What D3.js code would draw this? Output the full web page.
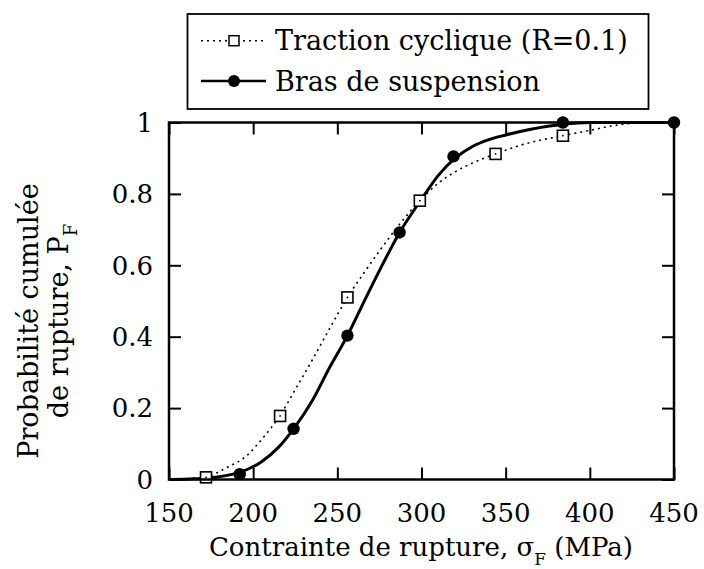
<!DOCTYPE html>
<html>
<head>
<meta charset="utf-8">
<script src="https://cdn.jsdelivr.net/npm/d3@7"></script>
<style>
  body { margin: 0; background: #fff; }
</style>
</head>
<body>
<svg id="chart" width="704" height="569"></svg>
<script>
// ---- data ----
const xTicks = [150, 200, 250, 300, 350, 400, 450];
const yTicks = [0, 0.2, 0.4, 0.6, 0.8, 1];
const yTickLabels = ["0", "0.2", "0.4", "0.6", "0.8", "1"];

// Traction cyclique (R=0.1) - measured points
const tractionX = [172, 216, 256, 299, 344, 384];
const tractionY = [0.006, 0.178, 0.51, 0.781, 0.912, 0.963];
// Traction cyclique - fitted curve
const tractionFitX = [150, 160, 172, 185, 196, 205, 216, 226, 236, 246, 256, 266, 275, 287, 299, 310, 320, 332, 344, 360, 384, 400, 414, 430, 450];
const tractionFitY = [0.0, 0.002, 0.008, 0.035, 0.066, 0.112, 0.18, 0.26, 0.342, 0.428, 0.51, 0.58, 0.64, 0.715, 0.781, 0.83, 0.862, 0.89, 0.912, 0.938, 0.963, 0.978, 0.991, 0.999, 1.0];

// Bras de suspension - measured points
const brasX = [192, 224, 256, 287, 319, 384, 450];
const brasY = [0.015, 0.142, 0.403, 0.692, 0.905, 1.0, 1.0];
// Bras de suspension - fitted curve
const brasFitX = [150, 165, 180, 192, 205, 215, 224, 235, 245, 256, 265, 275, 287, 300, 310, 320, 330, 340, 350, 365, 384, 400, 450];
const brasFitY = [0.0, 0.002, 0.008, 0.02, 0.05, 0.09, 0.142, 0.22, 0.31, 0.403, 0.49, 0.585, 0.692, 0.785, 0.852, 0.9, 0.932, 0.952, 0.965, 0.981, 0.995, 1.0, 1.0];

const legendLabels = ["Traction cyclique (R=0.1)", "Bras de suspension"];

// ---- layout ----
const svg = d3.select("#chart");
const L = 169, R = 674, T = 122.5, B = 479.5;
const x = d3.scaleLinear().domain([150, 450]).range([L, R]);
const y = d3.scaleLinear().domain([0, 1]).range([B, T]);
const tickLen = 12;

const g = svg.append("g");

// curves
const line = d3.line().x(d => x(d[0])).y(d => y(d[1])).curve(d3.curveMonotoneX);
g.append("path")
  .datum(tractionFitX.map((v, i) => [v, tractionFitY[i]]))
  .attr("d", line).attr("fill", "none").attr("stroke", "#000")
  .attr("stroke-width", 1.6).attr("stroke-dasharray", "2,4");
g.append("path")
  .datum(brasFitX.map((v, i) => [v, brasFitY[i]]))
  .attr("d", line).attr("fill", "none").attr("stroke", "#000")
  .attr("stroke-width", 3);

// axes with inward ticks on all sides
const axB = d3.axisBottom(x).tickValues(xTicks).tickSizeInner(-tickLen).tickSizeOuter(0).tickFormat("");
const axT = d3.axisTop(x).tickValues(xTicks).tickSizeInner(-tickLen).tickSizeOuter(0).tickFormat("");
const axL = d3.axisLeft(y).tickValues(yTicks).tickSizeInner(-tickLen).tickSizeOuter(0).tickFormat("");
const axR = d3.axisRight(y).tickValues(yTicks).tickSizeInner(-tickLen).tickSizeOuter(0).tickFormat("");
[[axB, `translate(0,${B})`], [axT, `translate(0,${T})`], [axL, `translate(${L},0)`], [axR, `translate(${R},0)`]]
  .forEach(([ax, tr]) => {
    const a = svg.append("g").attr("transform", tr).call(ax);
    a.select(".domain").remove();
    a.selectAll("line").attr("stroke", "#000").attr("stroke-width", 2);
  });

// frame
svg.append("rect").attr("x", L).attr("y", T).attr("width", R - L).attr("height", B - T)
  .attr("fill", "none").attr("stroke", "#000").attr("stroke-width", 2.5);

// markers
const sq = 11;
g.selectAll(".sq").data(tractionX.map((v, i) => [v, tractionY[i]])).enter().append("rect")
  .attr("x", d => x(d[0]) - sq / 2).attr("y", d => y(d[1]) - sq / 2)
  .attr("width", sq).attr("height", sq)
  .attr("fill", "#fff").attr("stroke", "#000").attr("stroke-width", 1.6);
g.selectAll(".sqdot").data(tractionX.map((v, i) => [v, tractionY[i]])).enter().append("circle")
  .attr("cx", d => x(d[0])).attr("cy", d => y(d[1])).attr("r", 0.9).attr("fill", "#000");
g.selectAll(".dot").data(brasX.map((v, i) => [v, brasY[i]])).enter().append("circle")
  .attr("cx", d => x(d[0])).attr("cy", d => y(d[1])).attr("r", 6.2).attr("fill", "#000");

const FONT = "'DejaVu Serif', serif";
const FS = 26;

// tick labels
svg.selectAll(".xl").data(xTicks).enter().append("text")
  .attr("font-family", FONT)
  .attr("x", d => x(d)).attr("y", 522).attr("text-anchor", "middle")
  .attr("font-size", FS).text(d => d);
svg.selectAll(".yl").data(yTicks).enter().append("text")
  .attr("font-family", FONT)
  .attr("x", 153).attr("y", d => y(d)).attr("dy", "0.36em").attr("text-anchor", "end")
  .attr("font-size", FS).text((d, i) => yTickLabels[i]);

// x title
const xt = svg.append("text").attr("font-family", FONT).attr("x", 421).attr("y", 556).attr("text-anchor", "middle").attr("font-size", FS);
xt.append("tspan").text("Contrainte de rupture, σ");
xt.append("tspan").attr("font-size", 17).attr("dy", 9).text("F");
xt.append("tspan").attr("dy", -9).text(" (MPa)");

// y title
const yt = svg.append("g").attr("transform", "translate(0,321) rotate(-90)");
yt.append("text").attr("font-family", FONT).attr("x", 0).attr("y", 38).attr("text-anchor", "middle").attr("font-size", 27)
  .text("Probabilité cumulée");
const yt2 = yt.append("text").attr("font-family", FONT).attr("x", 0).attr("y", 68).attr("text-anchor", "middle").attr("font-size", 27);
yt2.append("tspan").text("de rupture, P");
yt2.append("tspan").attr("font-size", 18).attr("dy", 9).text("F");

// legend
const lg = svg.append("g");
lg.append("rect").attr("x", 187.5).attr("y", 14).attr("width", 461).attr("height", 95)
  .attr("fill", "#fff").attr("stroke", "#000").attr("stroke-width", 1.8);
const rows = [40.7, 81];
lg.append("line").attr("x1", 201).attr("x2", 266).attr("y1", rows[0]).attr("y2", rows[0])
  .attr("stroke", "#000").attr("stroke-width", 1.4).attr("stroke-dasharray", "2,4");
lg.append("rect").attr("x", 234 - 5).attr("y", rows[0] - 5).attr("width", 10).attr("height", 10)
  .attr("fill", "#fff").attr("stroke", "#000").attr("stroke-width", 1.5);
lg.append("line").attr("x1", 201).attr("x2", 266).attr("y1", rows[1]).attr("y2", rows[1])
  .attr("stroke", "#000").attr("stroke-width", 2.5);
lg.append("circle").attr("cx", 234).attr("cy", rows[1]).attr("r", 6).attr("fill", "#000");
legendLabels.forEach((t, i) => {
  lg.append("text").attr("font-family", FONT).attr("x", 275).attr("y", rows[i]).attr("dy", "0.36em")
    .attr("font-size", 27).text(t);
});
</script>
</body>
</html>
